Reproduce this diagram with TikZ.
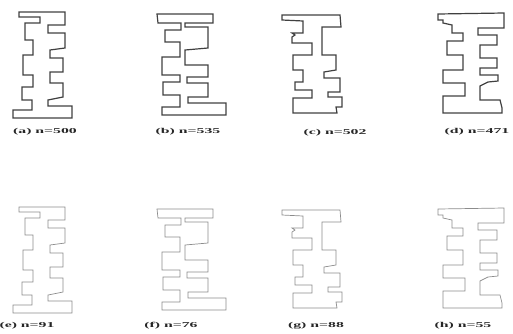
\documentclass[tikz,border=0pt]{standalone}
\usepackage{fontspec}
\setmainfont{Liberation Serif}
\tikzset{
  shapetop/.style={draw=black!75, line width=1.2pt, line join=miter},
  shapebot/.style={draw=black!45, line width=0.7pt, line join=miter},
  lab/.style={font=\bfseries\fontsize{7.5}{8}\selectfont, inner sep=0pt, text=black!85}
}
\newcommand{\lbl}[1]{\scalebox{2.1}[1]{#1}}
\newcommand{\shapeA}[1]{\draw[#1] (19,12) -- (65,12) -- (65,25) -- (48,25) -- (48,33) -- (65,33) -- (65,48) -- (50,50) -- (50,58) -- (63,58) -- (63,72) -- (50,72) -- (50,83) -- (63,83) -- (63,97) -- (48,100) -- (48,106) -- (72,106) -- (72,118) -- (13,118) -- (13,110) -- (32,110) -- (32,100) -- (22,100) -- (22,87) -- (33,87) -- (33,75) -- (23,75) -- (23,55) -- (33,55) -- (33,40) -- (25,40) -- (25,23) -- (40,23) -- (40,17) -- (19,17) -- cycle;}
\newcommand{\shapeB}[1]{\draw[#1] (157,14) -- (213,14) -- (213,23) -- (185,23) -- (185,27) -- (208,27) -- (208,48) -- (185,50) -- (185,65) -- (208,65) -- (208,77) -- (187,77) -- (187,83) -- (208,83) -- (208,97) -- (188,97) -- (188,103) -- (226,103) -- (226,115) -- (162,115) -- (162,107) -- (180,107) -- (180,95) -- (163,95) -- (163,82) -- (180,82) -- (180,75) -- (162,75) -- (162,57) -- (180,57) -- (180,42) -- (165,42) -- (165,30) -- (181,30) -- (181,23) -- (158,23) -- cycle;}
\newcommand{\shapeC}[1]{\draw[#1] (282,15) -- (340,15) -- (341,27) -- (322,27) -- (322,55) -- (336,55) -- (336,70) -- (324,72) -- (324,78) -- (340,78) -- (340,92) -- (328,92) -- (328,97) -- (342,97) -- (342,107) -- (336,107) -- (337,113) -- (293,113) -- (293,98) -- (312,98) -- (312,90) -- (295,90) -- (295,82) -- (303,82) -- (303,70) -- (293,70) -- (293,55) -- (312,55) -- (312,43) -- (292,43) -- (292,37) -- (295,35) -- (292,33) -- (303,33) -- (303,21) -- (282,20) -- cycle;}
\newcommand{\shapeD}[1]{\draw[#1] (438,14) -- (504,13) -- (504,28) -- (478,28) -- (478,35) -- (497,35) -- (497,45) -- (480,45) -- (480,58) -- (497,58) -- (497,68) -- (480,68) -- (480,75) -- (498,75) -- (498,81) -- (488,82) -- (480,86) -- (480,100) -- (500,100) -- (502,108) -- (502,113) -- (443,113) -- (443,96) -- (465,96) -- (465,83) -- (443,83) -- (443,70) -- (463,70) -- (463,55) -- (447,55) -- (447,41) -- (463,41) -- (463,33) -- (452,33) -- (452,25) -- (443,23) -- (443,20) -- (438,20) -- cycle;}
\begin{document}
\begin{tikzpicture}[x=1pt, y=-1pt]
\useasboundingbox (0,0) rectangle (513,333);
% top row
\shapeA{shapetop}
\shapeB{shapetop}
\shapeC{shapetop}
\shapeD{shapetop}
\node[lab] (la) at (45,132) {\lbl{(a) n=500}};
\node[lab] (lb) at (188,132) {\lbl{(b) n=535}};
\node[lab] (lc) at (335,133) {\lbl{(c) n=502}};
\node[lab] (ld) at (477,132) {\lbl{(d) n=471}};
% bottom row
\begin{scope}[yshift=-195pt]
\shapeA{shapebot}
\shapeB{shapebot}
\shapeC{shapebot}
\shapeD{shapebot}
\end{scope}
\node[lab] (le) at (27,326) {\lbl{(e) n=91}};
\node[lab] (lf) at (171,326) {\lbl{(f) n=76}};
\node[lab] (lg) at (316,326) {\lbl{(g) n=88}};
\node[lab] (lh) at (463,326) {\lbl{(h) n=55}};
\end{tikzpicture}
\end{document}
